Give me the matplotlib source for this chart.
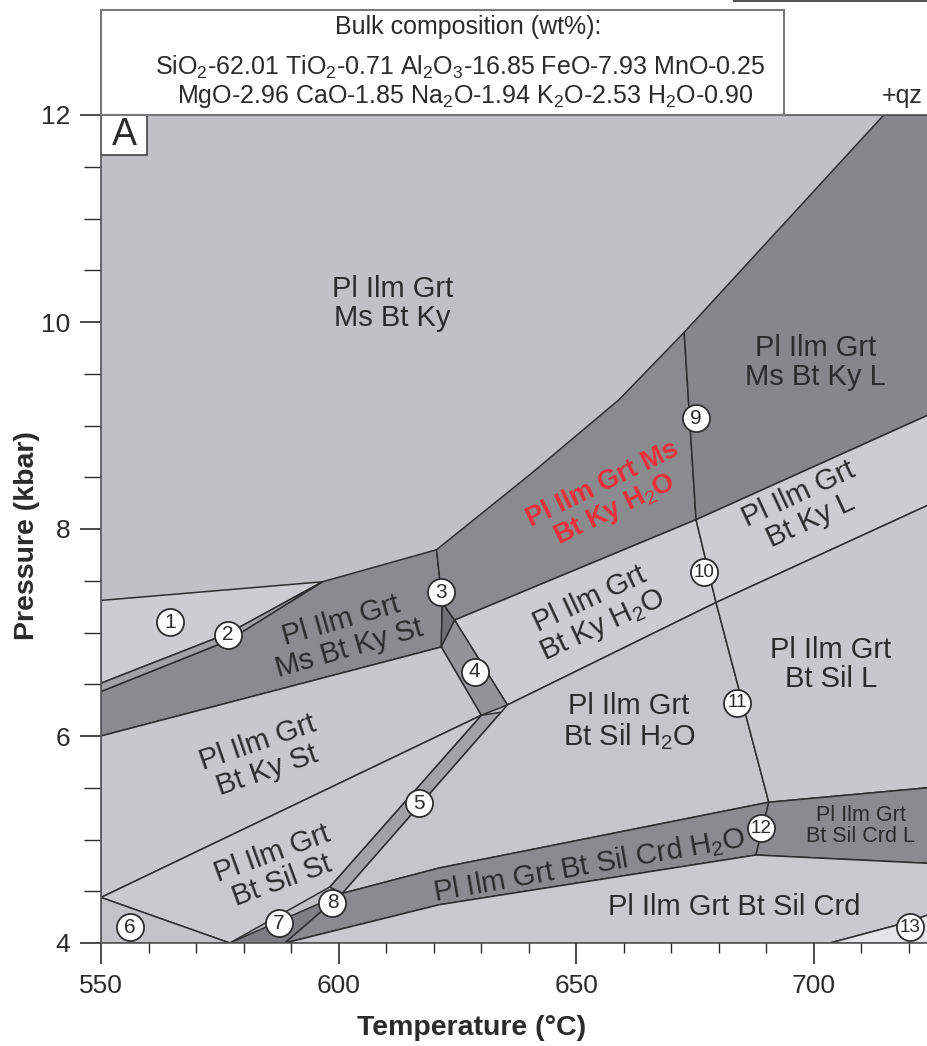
import matplotlib
matplotlib.use("Agg")
import matplotlib.pyplot as plt
from matplotlib.patches import Polygon, Rectangle
from matplotlib.ticker import MultipleLocator

plt.rcParams["font.family"] = ["Liberation Sans", "DejaVu Sans"]
plt.rcParams["mathtext.fontset"] = "custom"
plt.rcParams["mathtext.rm"] = "Liberation Sans"
plt.rcParams["mathtext.it"] = "Liberation Sans:italic"
plt.rcParams["mathtext.bf"] = "Liberation Sans:bold"

# ---- P-T window -------------------------------------------------------
T_MIN, T_MAX = 550.0, 724.0
P_MIN, P_MAX = 4.0, 12.0

# ---- field boundaries (T in degC, P in kbar) ---------------------------
J = (596.6, 7.49)  # where the upper thin reaction meets the St band
ms_bt_ky_st = [(550, 6.43), (576.7, 6.92), J, (620.6, 7.80),
               (621.8, 7.29), (621.6, 6.86), (550, 6.0)]
field_1 = [(550, 7.31), J, (576.7, 6.99), (550, 6.51)]
sliver_2 = [(550, 6.51), (576.7, 6.99), J, (576.7, 6.92), (550, 6.43)]
wedge_3 = [(621.8, 7.29), (624.4, 7.12), (621.6, 6.86)]
red_band = [(620.6, 7.80), (640.1, 8.52), (659.0, 9.25), (672.7, 9.90),
            (675.2, 8.09), (624.4, 7.12), (621.8, 7.29)]
ms_bt_ky_l = [(672.7, 9.90), (714.7, 12.0), (T_MAX, 12.0), (T_MAX, 9.10),
              (675.2, 8.09)]
bt_ky_h2o = [(624.4, 7.12), (675.2, 8.09), (679.4, 7.29), (635.5, 6.30)]
bt_ky_l = [(675.2, 8.09), (T_MAX, 9.10), (T_MAX, 8.23), (679.4, 7.29)]
band_4 = [(621.6, 6.86), (624.4, 7.12), (635.5, 6.30), (630.0, 6.20)]
bt_ky_st = [(550, 6.0), (621.6, 6.86), (630.0, 6.20), (550, 4.44)]
band_5 = [(630.0, 6.20), (634.2, 6.23), (600.8, 4.48), (598.1, 4.54)]
bt_sil_st = [(550, 4.44), (630.0, 6.20), (598.1, 4.54), (577.1, 4.0)]
field_6 = [(550, 4.44), (577.1, 4.0), (550, 4.0)]
field_7 = [(577.1, 4.0), (600.8, 4.48), (588.7, 4.0)]
bt_sil_h2o = [(634.2, 6.23), (635.5, 6.30), (679.4, 7.29), (690.5, 5.36),
              (621.2, 4.725), (600.8, 4.48)]
bt_sil_l = [(679.4, 7.29), (T_MAX, 8.23), (T_MAX, 5.50), (690.5, 5.36)]
crd_h2o = [(588.7, 4.0), (600.8, 4.48), (621.2, 4.725), (690.5, 5.36),
           (687.8, 4.85), (621.2, 4.37)]
crd_l = [(690.5, 5.36), (T_MAX, 5.50), (T_MAX, 4.77), (687.8, 4.85)]
bt_sil_crd = [(588.7, 4.0), (621.2, 4.37), (687.8, 4.85), (T_MAX, 4.77),
              (T_MAX, 4.27), (717.2, 4.17), (703.4, 4.0)]
field_13 = [(703.4, 4.0), (717.2, 4.17), (T_MAX, 4.27), (T_MAX, 4.0)]

LIGHT = "#bfc1c4"
LIGHTER = "#cbcdd0"
PALE = "#e4e5e7"
MID = "#a0a2a5"
DARK = "#898b8e"
DARKER = "#6e7073"
EDGE = "#2e2e2e"

fields = [
    (field_1, LIGHTER), (ms_bt_ky_st, DARK), (sliver_2, MID), (wedge_3, DARKER),
    (red_band, DARK), (ms_bt_ky_l, "#85878a"), (bt_ky_h2o, LIGHTER),
    (bt_ky_l, LIGHTER), (band_4, "#929497"), (bt_ky_st, "#c6c8cb"),
    (band_5, MID), (bt_sil_st, "#c8cacd"), (field_6, "#c2c4c7"),
    (field_7, "#7d7f82"), (bt_sil_h2o, "#c4c6c9"), (bt_sil_l, "#c6c8cb"),
    (crd_h2o, DARK), (crd_l, DARK), (bt_sil_crd, "#c8cacd"), (field_13, PALE),
]

# ---- assemblage labels ----------------------------------------------------
label_text = [
    "Pl Ilm Grt\nMs Bt Ky", "Pl Ilm Grt\nMs Bt Ky L", "Pl Ilm Grt\nMs Bt Ky St",
    "Pl Ilm Grt\nBt Ky St", "Pl Ilm Grt\nBt Sil St", "Pl Ilm Grt\nBt Ky H$_2$O",
    "Pl Ilm Grt\nBt Ky L", "Pl Ilm Grt\nBt Sil L", "Pl Ilm Grt\nBt Sil H$_2$O",
    "Pl Ilm Grt Bt Sil Crd H$_2$O", "Pl Ilm Grt\nBt Sil Crd L",
    "Pl Ilm Grt Bt Sil Crd",
]
label_T = [611.3, 700.4, 601.3, 584.0, 587.0, 654.2, 698.1, 703.6, 661.1,
           652.7, 709.9, 683.2]
label_P = [10.18, 9.61, 6.98, 5.80, 4.73, 7.19, 8.21, 6.69, 6.14, 4.75, 5.13, 4.35]
label_rot = [0, 0, 16, 19, 20, 25, 25, 0, 0, 10, 0, 0]
label_size = [21, 21, 21, 21, 21, 21, 21, 21, 21, 21, 15.5, 21]

red_label = "Pl Ilm Grt Ms\nBt Ky H$_2$O"
red_T, red_P, red_rot = 656.9, 8.30, 26

# ---- numbered small fields ---------------------------------------------------
num_T = [564.5, 576.7, 621.6, 628.6, 617.0, 556.1, 587.4, 598.7, 675.2, 676.9,
         683.8, 688.9, 720.2]
num_P = [7.10, 6.98, 7.39, 6.62, 5.35, 4.15, 4.19, 4.39, 9.07, 7.58, 6.32, 5.11,
         4.15]

fig = plt.figure(figsize=(9.28, 10.46), dpi=100)
ax = fig.add_axes([101 / 928, 1 - 943 / 1046, 1 - 101 / 928, 828 / 1046])
ax.set_facecolor(LIGHT)
ax.set_xlim(T_MIN, T_MAX)
ax.set_ylim(P_MIN, P_MAX)

for pts, col in fields:
    ax.add_patch(Polygon(pts, closed=True, facecolor=col, edgecolor=EDGE,
                         lw=1.1, joinstyle="round"))

TXT = "#2b2b2b"
for s, t, p, r, fs in zip(label_text, label_T, label_P, label_rot, label_size):
    ax.text(t, p, s, ha="center", va="center", rotation=r, fontsize=fs,
            color=TXT, linespacing=1.05 if fs > 16 else 0.95,
            rotation_mode="anchor")
ax.text(red_T, red_P, red_label, ha="center", va="center", rotation=red_rot,
        fontsize=19.5, color="#e8303a", fontweight="bold", linespacing=1.05,
        rotation_mode="anchor")

for i, (t, p) in enumerate(zip(num_T, num_P), start=1):
    ax.plot(t, p, "o", ms=19.5, mfc="white", mec=EDGE, mew=1.3, zorder=5)
    ax.text(t, p, str(i), ha="center", va="center",
            fontsize=15 if i < 10 else 13.5, color=TXT, zorder=6)

# ---- axes styling ----------------------------------------------------------
ax.xaxis.set_major_locator(MultipleLocator(50))
ax.xaxis.set_minor_locator(MultipleLocator(10))
ax.yaxis.set_major_locator(MultipleLocator(2))
ax.yaxis.set_minor_locator(MultipleLocator(0.5))
ax.tick_params(which="major", direction="out", length=15, width=1.2,
               labelsize=19, colors=TXT, pad=7)
ax.tick_params(axis="x", which="minor", direction="out", length=7, width=1.0,
               colors=TXT)
ax.tick_params(axis="y", which="minor", direction="out", length=12, width=1.0,
               colors=TXT)
ax.spines["right"].set_visible(False)
for sp in ("left", "bottom", "top"):
    ax.spines[sp].set_linewidth(1.2)
    ax.spines[sp].set_color("#555555")

ax.set_xlabel("Temperature (°C)", fontsize=20.5, fontweight="bold", color=TXT)
ax.xaxis.set_label_coords((472 - 101) / 827, -(1028 - 943) / 828)
ax.xaxis.label.set_va("center")
ax.set_ylabel("Pressure (kbar)", fontsize=20.5, fontweight="bold", color=TXT)
ax.yaxis.set_label_coords(-(101 - 27) / 827, (943 - 536) / 828)
ax.yaxis.label.set_va("center")

# panel letter
ax.add_patch(Rectangle((0, 1 - 40 / 828), 46 / 824, 40 / 828,
                       transform=ax.transAxes, facecolor="white",
                       edgecolor="#444444", lw=1.2, zorder=7))
ax.text(23 / 824, 1 - 20 / 828, "A", transform=ax.transAxes, ha="center",
        va="center", fontsize=27, color=TXT, zorder=8)

# bulk composition box
fig.patches.append(Rectangle((101 / 928, 1 - 115 / 1046), (784 - 101) / 928,
                             105 / 1046, transform=fig.transFigure,
                             facecolor="white", edgecolor="#777777", lw=1.5))
fig.text(468 / 928, 1 - 27 / 1046, "Bulk composition (wt%):", ha="center",
         va="center", fontsize=18, color=TXT)
fig.text(460 / 928, 1 - 67 / 1046,
         "SiO$_2$-62.01 TiO$_2$-0.71 Al$_2$O$_3$-16.85 FeO-7.93 MnO-0.25",
         ha="center", va="center", fontsize=18, color=TXT)
fig.text(465 / 928, 1 - 96 / 1046,
         "MgO-2.96 CaO-1.85 Na$_2$O-1.94 K$_2$O-2.53 H$_2$O-0.90",
         ha="center", va="center", fontsize=18, color=TXT)
fig.text(902 / 928, 1 - 96 / 1046, "+qz", ha="center", va="center",
         fontsize=18, color=TXT)
fig.lines.append(plt.Line2D([734 / 928, 1.0], [0.999, 0.999],
                            transform=fig.transFigure, color="#555555", lw=1.5))

fig.savefig("out.png", dpi=100, facecolor="white")
